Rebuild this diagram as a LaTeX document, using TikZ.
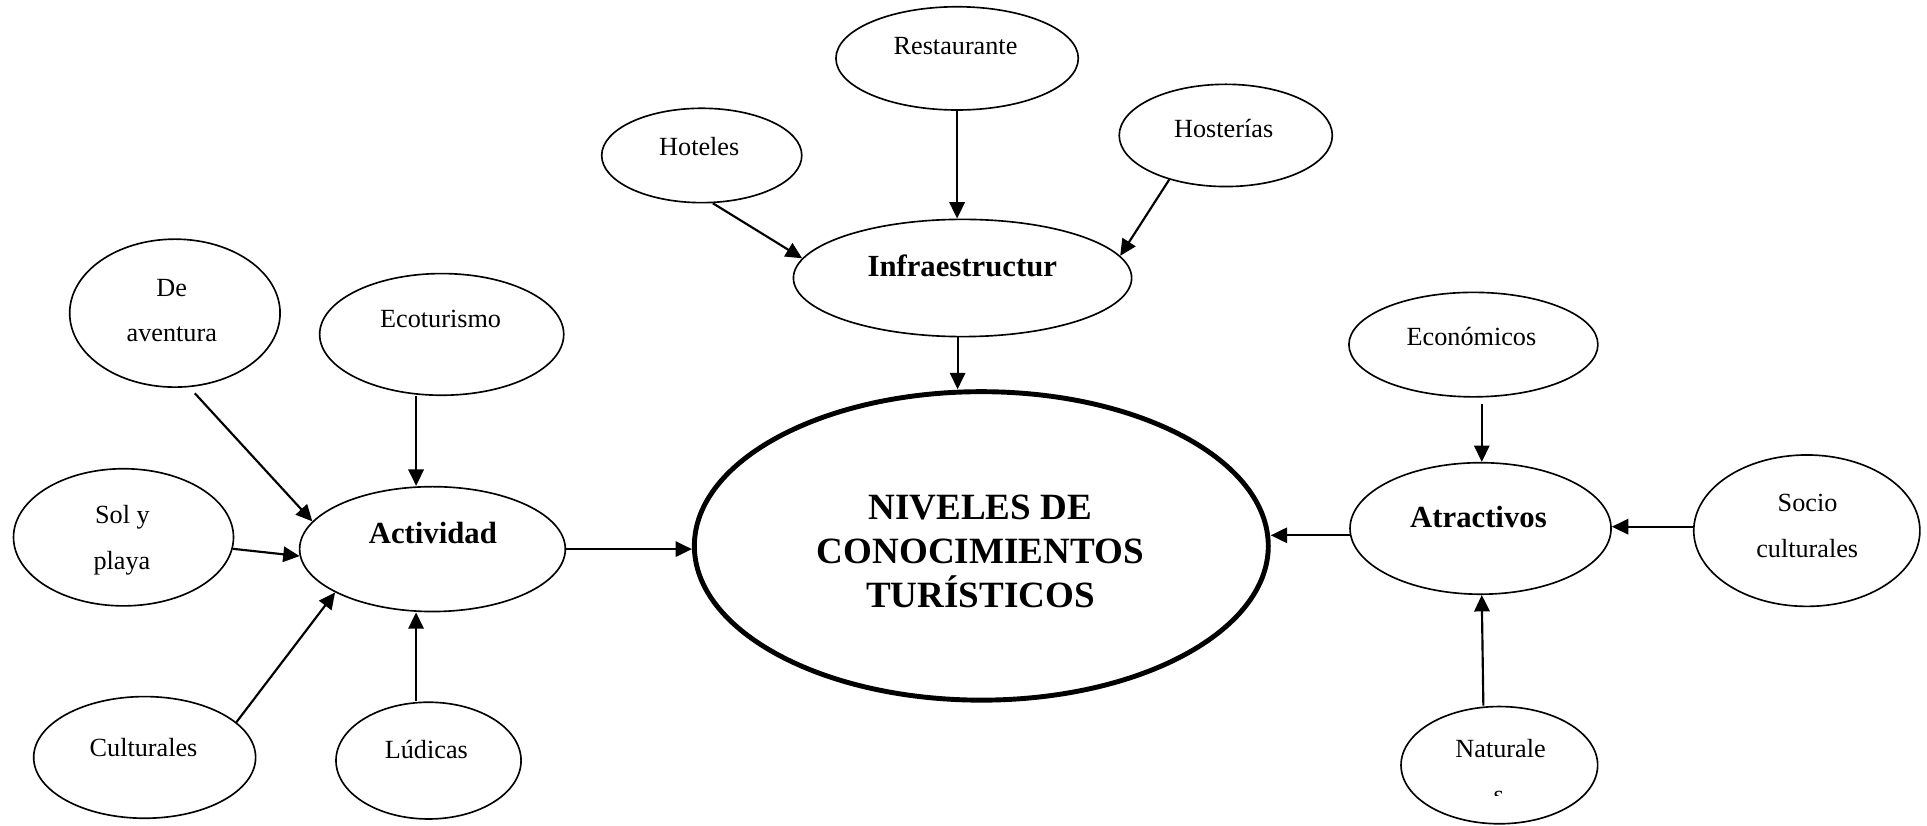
\documentclass[tikz,border=0pt]{standalone}
\usepackage{fontspec}
\setmainfont{Liberation Serif}
\usetikzlibrary{shapes.geometric,arrows.meta}
\begin{document}
\begin{tikzpicture}[x=0.6pt,y=-0.6pt,
  el/.style 2 args={draw, ellipse, line width=0.8pt, inner sep=0pt,
     minimum width=#1*1.2pt, minimum height=#2*1.2pt},
  big/.style 2 args={draw, ellipse, line width=2.4pt, inner sep=0pt,
     minimum width=#1*1.2pt, minimum height=#2*1.2pt},
  txt/.style={anchor=base, inner sep=0pt, font=\fontsize{12.8}{15}\selectfont},
  btxt/.style={anchor=base, inner sep=0pt, font=\fontsize{15}{18}\selectfont\bfseries},
  ctxt/.style={anchor=base, inner sep=0pt, font=\fontsize{18.1}{22}\selectfont\bfseries},
  arr/.style={-{Triangle[length=8pt,width=7.5pt]}, line width=1.05pt},
]
\useasboundingbox (0,0) rectangle (1568,671.3);

% ---------- ellipses ----------
\node[el={98.6}{42}]   (res) at (778.8,47.5) {};
\node[el={81.4}{38.4}] (hot) at (571,126.5) {};
\node[el={86.7}{41.6}] (hos) at (997.4,110.2) {};
\node[el={137.6}{47.7}] (inf) at (783.2,226.2) {};
\node[big={233.5}{125.5}] (ctr) at (798.5,444.2) {};

\node[el={85.6}{60.2}] (ade) at (142.3,254.8) {};
\node[el={99.3}{49.5}] (eco) at (359.4,272.1) {};
\node[el={89.5}{55.8}] (sol) at (100.5,437.2) {};
\node[el={108.1}{50.8}] (act) at (351.9,446.8) {};
\node[el={90.3}{49.5}] (cul) at (117.7,616.3) {};
\node[el={75.3}{47.5}] (lud) at (348.7,618.9) {};

\node[el={101.3}{42.5}] (ecn) at (1198.9,280.4) {};
\node[el={106.2}{53.5}] (atr) at (1204.7,430) {};
\node[el={92}{61.6}]    (soc) at (1470.2,431.8) {};
\node[el={80}{47.7}]    (nat) at (1220,622.6) {};

% ---------- texts ----------
\node[txt] (res-t) at (777.5,44.4) {Restaurante};
\node[txt] (hot-t) at (569,126.3) {Hoteles};
\node[txt] (hos-t) at (995.7,112.2) {Hosterías};
\node[btxt] (inf-t) at (783,225) {Infraestructur};
\node[ctxt] (ctr-1) at (797.7,423) {NIVELES DE};
\node[ctxt] (ctr-2) at (797.7,458.7) {CONOCIMIENTOS};
\node[ctxt] (ctr-3) at (797.7,494.5) {TURÍSTICOS};

\node[txt] (ade-1) at (139.7,241) {De};
\node[txt] (ade-2) at (139.8,278) {aventura};
\node[txt] (eco-t) at (358.5,266.3) {Ecoturismo};
\node[txt] (sol-1) at (99.6,426) {Sol y};
\node[txt] (sol-2) at (99.2,463.5) {playa};
\node[btxt] (act-t) at (352.2,442.5) {Actividad};
\node[txt] (cul-t) at (116.8,615.5) {Culturales};
\node[txt] (lud-t) at (346.9,617.5) {Lúdicas};

\node[txt] (ecn-t) at (1197.3,281) {Económicos};
\node[btxt] (atr-t) at (1203,429.5) {Atractivos};
\node[txt] (soc-1) at (1470.8,416) {Socio};
\node[txt] (soc-2) at (1470.5,453.3) {culturales};
\node[txt] (nat-1) at (1221,616.5) {Naturale};
\begin{scope}
  \clip (1140,600) rectangle (1300,647);
  \node[txt] (nat-2) at (1219.5,653.4) {s};
\end{scope}

% ---------- helper coordinates ----------
\coordinate (infS) at ([xshift=-2.4pt]inf.south);
\coordinate (ecoS) at ([xshift=-12.5pt]eco.south);
\coordinate (ludN) at ([xshift=-6.1pt]lud.north);
\coordinate (ecnS) at ([xshift=4.1pt]ecn.south);
\coordinate (natN) at ([xshift=-7.8pt]nat.north);

% ---------- connectors ----------
\draw[arr] (hot.-77) -- (inf.173);
\draw[arr] (res.south) -- (res.south |- inf.north);
\draw[arr] (hos.218) -- (inf.8);
\draw[arr] (infS) -- (infS |- ctr.north);

\draw[arr, shorten <=4pt] (ade.-79) -- (act.167);
\draw[arr] (ecoS) -- (ecoS |- act.north);
\draw[arr] (sol.-6) -- (act.183);
\draw[arr] (cul.21) -- (act.204);
\draw[arr] (ludN) -- (ludN |- act.south);
\draw[arr] (act.east) -- (act.east -| ctr.west);

\draw[arr, shorten <=3pt] (ecnS) -- (ecnS |- atr.north);
\draw[arr] (soc.178) -- (soc.178 -| atr.east);
\draw[arr] (natN) -- ([xshift=0.6pt]atr.south);
\draw[arr] (atr.183) -- (atr.183 -| ctr.east);
\end{tikzpicture}
\end{document}
